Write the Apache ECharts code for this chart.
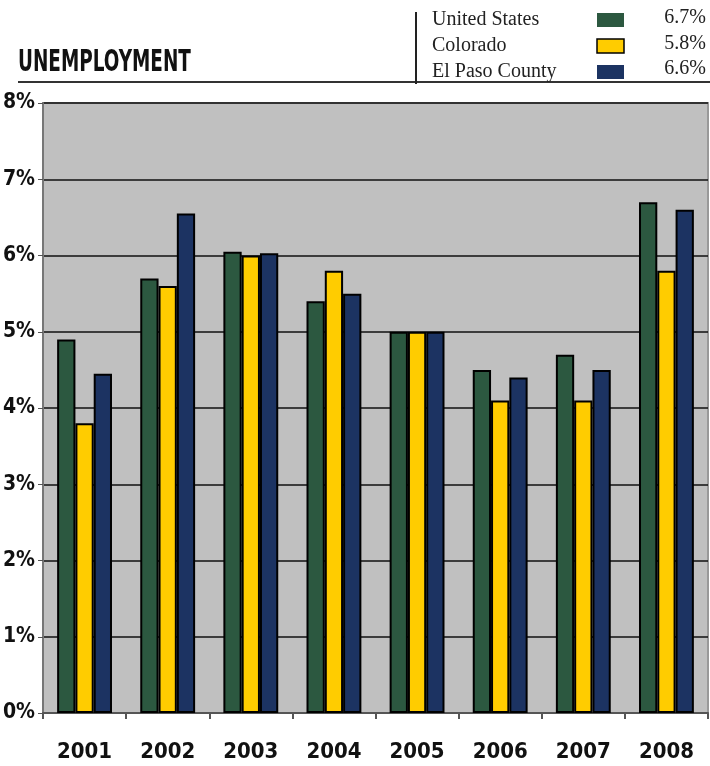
<!DOCTYPE html>
<html>
<head>
	<meta charset="UTF-8">
	<title>Unemployment</title>
	<style>
		body { margin: 0; background: #fff; }
		#chart { width: 710px; height: 766px; }
	</style>
	<script src="https://cdn.jsdelivr.net/npm/echarts@6/dist/echarts.min.js"></script>
</head>
<body>
	<div id="chart"></div>
	<script>
		var years = ['2001', '2002', '2003', '2004', '2005', '2006', '2007', '2008'];
		var unitedStates = [4.9, 5.7, 6.05, 5.4, 5.0, 4.5, 4.7, 6.7];
		var colorado = [3.8, 5.6, 6.0, 5.8, 5.0, 4.1, 4.1, 5.8];
		var elPaso = [4.45, 6.55, 6.03, 5.5, 5.0, 4.4, 4.5, 6.6];
		var seriesNames = ['United States', 'Colorado', 'El Paso County'];
		var latest = ['6.7%', '5.8%', '6.6%'];
		var colors = ['#2c5840', '#ffcc00', '#1c3362'];

		var condensed = '"DejaVu Sans Condensed", "DejaVu Sans", sans-serif';
		var serif = '"Liberation Serif", "DejaVu Serif", serif';

		function bar(name, data, color) {
			return {
				name: name,
				type: 'bar',
				data: data,
				barGap: '0%',
				barCategoryGap: '34%',
				itemStyle: { color: color, borderColor: '#000', borderWidth: 2 }
			};
		}

		var mychart = echarts.init(document.getElementById('chart'));
		mychart.setOption({
			animation: false,
			legend: {
				orient: 'vertical',
				left: 427,
				top: 5,
				itemGap: 6,
				itemWidth: 27,
				itemHeight: 14,
				icon: 'rect',
				align: 'right',
				selectedMode: false,
				formatter: function (name) { return '{a|' + name + '}'; },
				textStyle: {
					rich: { a: { width: 160, align: 'left', fontFamily: serif, fontSize: 20, color: '#222' } }
				},
				data: seriesNames.map(function (n, i) {
					return { name: n, itemStyle: { borderWidth: i === 1 ? 1.5 : 0, borderColor: '#000' } };
				})
			},
			graphic: [
				{
					type: 'text', left: 18, top: 47, scaleX: 0.66,
					style: { text: 'UNEMPLOYMENT', font: 'bold 31px ' + condensed, fill: '#111' }
				},
				{ type: 'line', shape: { x1: 18, y1: 82, x2: 710, y2: 82 }, style: { stroke: '#333', lineWidth: 2 } },
				{ type: 'line', shape: { x1: 416, y1: 12, x2: 416, y2: 84 }, style: { stroke: '#222', lineWidth: 2 } }
			].concat(latest.map(function (v, i) {
				return {
					type: 'text', right: 4, top: 8 + i * 25.5,
					style: { text: v, font: '20px ' + serif, fill: '#222' }
				};
			})),
			grid: {
				left: 43, right: 2, top: 103, bottom: 53,
				outerBoundsMode: 'none',
				show: true, backgroundColor: '#c0c0c0', borderColor: '#999', borderWidth: 2
			},
			xAxis: {
				type: 'category',
				data: years,
				axisLine: { lineStyle: { color: '#555', width: 2 } },
				axisTick: { show: true, length: 6, lineStyle: { color: '#555', width: 2 } },
				axisLabel: { margin: 28, fontFamily: condensed, fontWeight: 'bold', fontSize: 22, color: '#111' }
			},
			yAxis: {
				type: 'value',
				min: 0, max: 8, interval: 1,
				axisLine: { show: true, lineStyle: { color: '#777', width: 2 } },
				axisTick: { show: true, length: 5, lineStyle: { color: '#555' } },
				splitLine: { lineStyle: { color: '#111', width: 1.5 } },
				axisLabel: {
					formatter: '{value}%', margin: 8,
					fontFamily: condensed, fontWeight: 'bold', fontSize: 21, color: '#111'
				}
			},
			series: [
				bar(seriesNames[0], unitedStates, colors[0]),
				bar(seriesNames[1], colorado, colors[1]),
				bar(seriesNames[2], elPaso, colors[2])
			]
		});
	</script>
</body>
</html>
